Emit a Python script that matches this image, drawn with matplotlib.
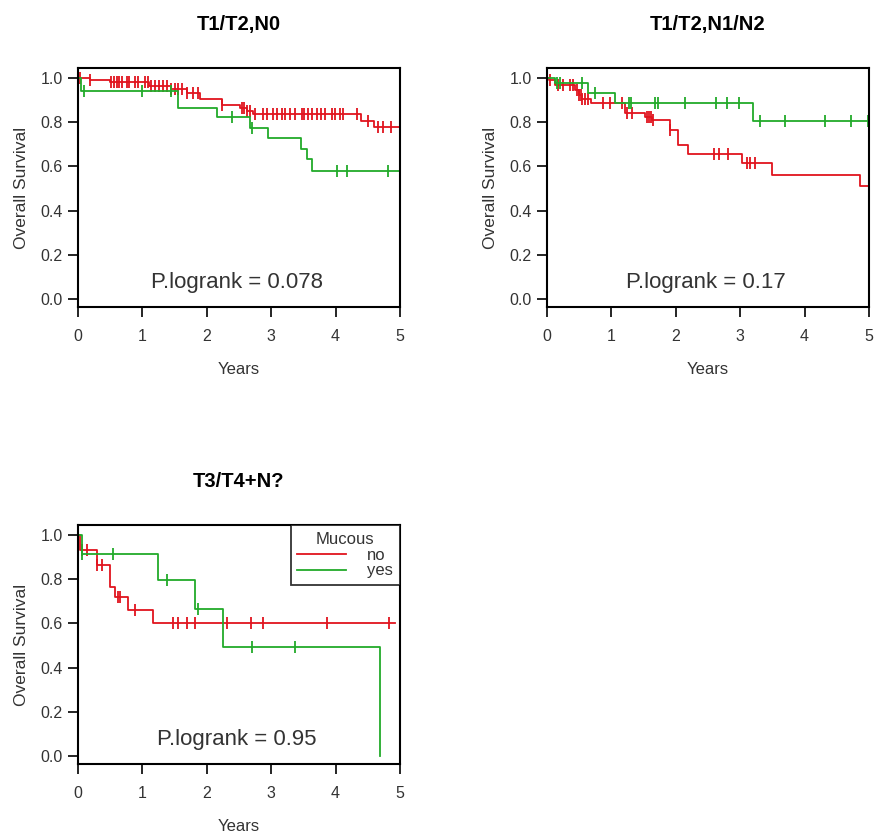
"""Kaplan-Meier curves of overall survival by mucous status, three stage groups."""

import numpy as np
import matplotlib
matplotlib.use("Agg")
import matplotlib.pyplot as plt
from matplotlib.lines import Line2D

plt.rcParams["font.family"] = ["Liberation Sans", "DejaVu Sans"]

RED = "#e0141e"
GREEN = "#22aa2a"
TEXTCOLOR = "#333333"

# ---- T1/T2,N0 ----
n0RedTimes = [0.18, 0.5, 1.1, 1.45, 1.7, 1.9, 2.23, 2.52, 2.62, 2.72, 4.4, 4.6]
n0RedSurv = [0.99, 0.98, 0.965, 0.95, 0.93, 0.905, 0.878, 0.862, 0.85, 0.837, 0.807, 0.78]
n0RedCensor = [0.03, 0.19, 0.52, 0.56, 0.6, 0.64, 0.68, 0.76, 0.8, 0.88, 0.94, 1.04, 1.09,
               1.14, 1.2, 1.26, 1.32, 1.38, 1.45, 1.5, 1.56, 1.62, 1.7, 1.79, 1.86, 2.23,
               2.54, 2.58, 2.62, 2.67, 2.75, 2.87, 2.93, 3.03, 3.09, 3.17, 3.21, 3.29, 3.37,
               3.48, 3.51, 3.57, 3.63, 3.71, 3.77, 3.84, 3.94, 3.99, 4.07, 4.11, 4.33, 4.5,
               4.66, 4.74, 4.86]
n0GreenTimes = [0.04, 1.55, 2.16, 2.67, 2.95, 3.47, 3.55, 3.63]
n0GreenSurv = [0.94, 0.866, 0.822, 0.772, 0.73, 0.68, 0.633, 0.58]
n0GreenCensor = [0.1, 0.99, 1.45, 2.39, 2.70, 4.03, 4.18, 4.81]

# ---- T1/T2,N1/N2 ----
n12RedTimes = [0.03, 0.12, 0.43, 0.5, 0.54, 0.69, 1.21, 1.52, 1.63, 1.91, 2.04, 2.19, 3.02, 3.49, 4.86]
n12RedSurv = [0.99, 0.968, 0.945, 0.923, 0.905, 0.885, 0.843, 0.825, 0.81, 0.765, 0.697, 0.656,
              0.614, 0.561, 0.511]
n12RedCensor = [0.05, 0.17, 0.25, 0.35, 0.4, 0.47, 0.5, 0.52, 0.54, 0.59, 0.64, 0.87, 0.98,
                1.16, 1.24, 1.32, 1.55, 1.58, 1.61, 1.65, 1.91, 2.59, 2.67, 2.81, 3.1, 3.15, 3.23]
n12GreenTimes = [0.12, 0.64, 1.06, 3.2]
n12GreenSurv = [0.976, 0.93, 0.885, 0.807]
n12GreenCensor = [0.15, 0.2, 0.55, 0.75, 1.28, 1.31, 1.68, 1.72, 2.14, 2.62, 2.8, 2.98, 3.31,
                  3.7, 4.32, 4.72, 4.98]

# ---- T3/T4+N? ----
t34RedTimes = [0.03, 0.29, 0.5, 0.57, 0.78, 1.16]
t34RedSurv = [0.93, 0.865, 0.765, 0.72, 0.66, 0.60]
t34RedCensor = [0.06, 0.14, 0.29, 0.37, 0.62, 0.66, 0.89, 1.47, 1.56, 1.70, 1.81, 2.31, 2.68,
                2.88, 3.86, 4.83]
t34GreenTimes = [0.06, 1.25, 1.81, 2.25, 4.69]
t34GreenSurv = [0.913, 0.796, 0.665, 0.495, 0.0]
t34GreenCensor = [0.07, 0.55, 1.38, 1.87, 2.71, 3.37]

titles = ["T1/T2,N0", "T1/T2,N1/N2", "T3/T4+N?"]
pValues = ["0.078", "0.17", "0.95"]
groupLabels = ["no", "yes"]


def survAt(times, surv, t):
    levels = np.r_[1.0, surv]
    return levels[np.searchsorted(times, t, side="right")]


def drawCurve(ax, times, surv, censor, end, color):
    x = np.r_[0.0, times, end]
    y = np.r_[1.0, surv, surv[-1]]
    ax.step(x, y, where="post", color=color, linewidth=1.3)
    cy = [survAt(times, surv, t) for t in censor]
    ax.plot(censor, cy, linestyle="none", marker="|", markersize=9, markeredgewidth=1.3, color=color)


def styleAxes(ax, title, pValue):
    ax.set_xlim(0, 5)
    ax.set_ylim(-0.035, 1.045)
    ax.set_xticks(range(6))
    ax.set_yticks([0.0, 0.2, 0.4, 0.6, 0.8, 1.0])
    ax.set_yticklabels(["0.0", "0.2", "0.4", "0.6", "0.8", "1.0"])
    ax.tick_params(axis="both", direction="out", length=7, width=1.2, colors="black",
                   labelcolor=TEXTCOLOR, labelsize=11.5)
    ax.tick_params(axis="x", pad=9)
    ax.tick_params(axis="y", pad=4)
    for spine in ax.spines.values():
        spine.set_linewidth(1.5)
    ax.set_xlabel("Years", fontsize=12, color=TEXTCOLOR, va="center")
    ax.xaxis.set_label_coords(0.5, -0.26)
    ax.set_ylabel("Overall Survival", fontsize=12.5, color=TEXTCOLOR, va="center")
    ax.yaxis.set_label_coords(-0.175, 0.5)
    ax.text(0.5, 1.18, title, transform=ax.transAxes, ha="center", va="center",
            fontsize=14.5, fontweight="bold")
    ax.text(2.47, 0.075, "P.logrank = " + pValue, ha="center", va="center",
            fontsize=16, color=TEXTCOLOR)


fig = plt.figure(figsize=(8.74, 8.36), dpi=100)
ax1 = fig.add_axes([0.0892, 0.6328, 0.3684, 0.2859])
ax2 = fig.add_axes([0.6259, 0.6328, 0.3684, 0.2859])
ax3 = fig.add_axes([0.0892, 0.0861, 0.3684, 0.2859])

drawCurve(ax1, n0RedTimes, n0RedSurv, n0RedCensor, 5.0, RED)
drawCurve(ax1, n0GreenTimes, n0GreenSurv, n0GreenCensor, 5.0, GREEN)
drawCurve(ax2, n12RedTimes, n12RedSurv, n12RedCensor, 5.0, RED)
drawCurve(ax2, n12GreenTimes, n12GreenSurv, n12GreenCensor, 5.0, GREEN)
drawCurve(ax3, t34RedTimes, t34RedSurv, t34RedCensor, 4.93, RED)
drawCurve(ax3, t34GreenTimes, t34GreenSurv, t34GreenCensor, 4.69, GREEN)

for ax, title, p in zip([ax1, ax2, ax3], titles, pValues):
    styleAxes(ax, title, p)

handles = [Line2D([0], [0], color=RED, linewidth=1.3), Line2D([0], [0], color=GREEN, linewidth=1.3)]
legend = ax3.legend(handles, groupLabels, title="Mucous", loc="upper right", borderaxespad=0,
                    fancybox=False, edgecolor="black", fontsize=12, title_fontsize=12,
                    handlelength=2.9, labelspacing=0.05, borderpad=0.4, handletextpad=1.3)
legend.get_frame().set_linewidth(1.3)
legend.get_title().set_color(TEXTCOLOR)
for t in legend.get_texts():
    t.set_color(TEXTCOLOR)

fig.savefig("out.png", dpi=100)
